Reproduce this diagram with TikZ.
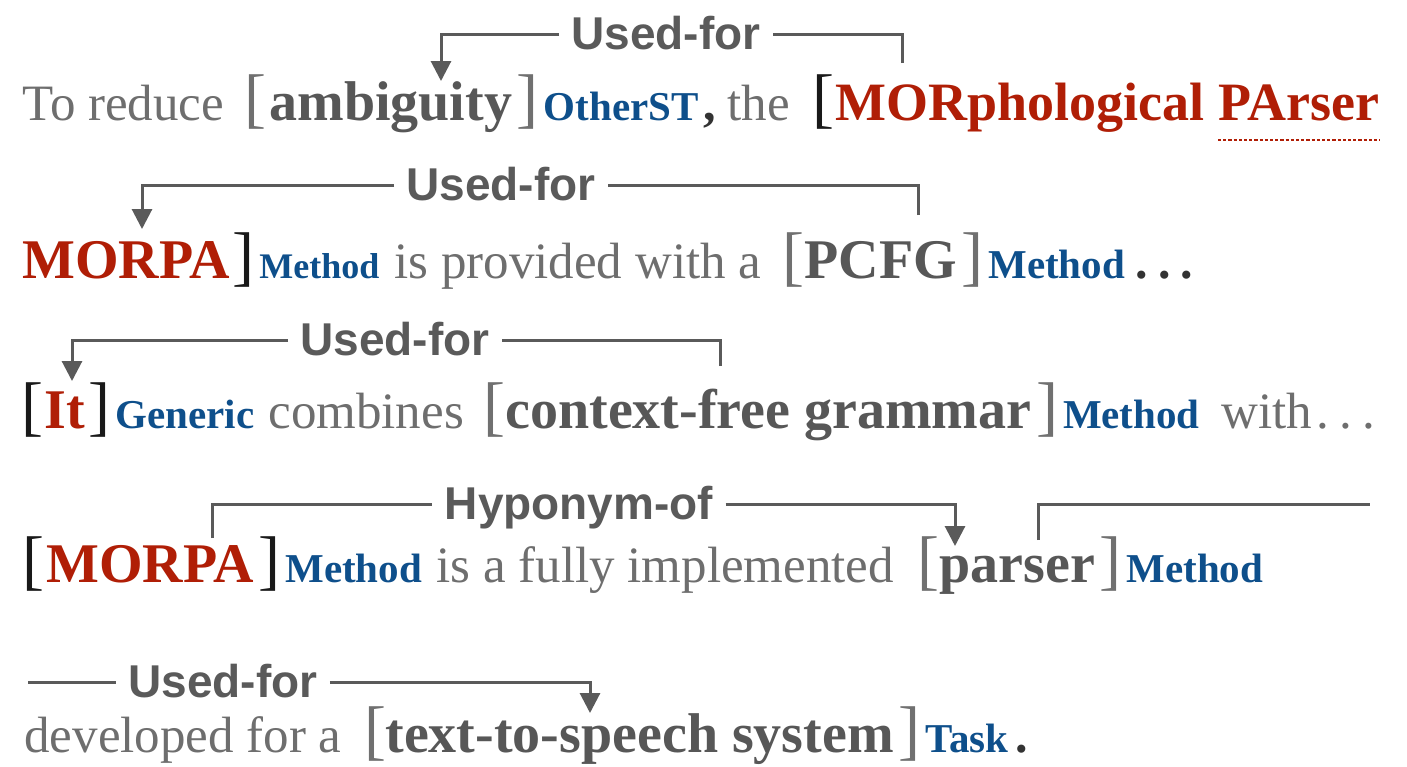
\documentclass[tikz,border=0pt]{standalone}
\usepackage{fontspec}
\setmainfont{Liberation Serif}
\setsansfont{Liberation Sans}
\usetikzlibrary{arrows.meta}

\definecolor{txtgray}{HTML}{6E6E6E}
\definecolor{entgray}{HTML}{575757}
\definecolor{brkgray}{HTML}{707070}
\definecolor{entred}{HTML}{B01E06}
\definecolor{tagblue}{HTML}{0E4F8B}
\definecolor{linkgray}{HTML}{5A5A5A}

\tikzset{
  every node/.style={inner sep=0pt, anchor=base west},
  plain/.style={font=\fontsize{25.5}{30}\selectfont, text=txtgray},
  dark/.style={font=\bfseries\fontsize{25}{30}\selectfont, text=black!80},
  ent/.style={font=\bfseries\fontsize{28}{32}\selectfont, text=entgray},
  entr/.style={font=\bfseries\fontsize{28}{32}\selectfont, text=entred},
  brk/.style={font=\fontsize{33}{38}\selectfont, text=brkgray},
  brkk/.style={font=\fontsize{33}{38}\selectfont, text=black!90},
  tag/.style={font=\bfseries\fontsize{20.5}{24}\selectfont, text=tagblue},
  tagsm/.style={font=\bfseries\fontsize{18}{22}\selectfont, text=tagblue},
  rel/.style={font=\sffamily\bfseries\fontsize{23}{27}\selectfont, text=linkgray,
    anchor=base, inner xsep=6pt, inner ysep=0pt, text height=15.5pt, text depth=0pt},
  link/.style={draw=linkgray, line width=1.5pt},
  tip/.style={-{Triangle[length=10pt,width=10pt]}}
}

\newcommand{\dotsgap}{.\kern5pt.\kern5pt.}

\begin{document}
\begin{tikzpicture}[x=0.5pt, y=-0.5pt]
  \useasboundingbox[fill=white] (0,0) rectangle (1407,766);

  % ---- sentence 1 ----
  \node[plain] (s1a) at (22,120) {To reduce};
  \node[brk] (s1b) at (244,120) {[};
  \node[ent] (ambig) at (269,120) {ambiguity};
  \node[brk] (s1c) at ([xshift=2pt]ambig.base east) {]};
  \node[tag] (s1d) at ([xshift=2pt]s1c.base east) {OtherST};
  \node[dark] (s1e) at ([xshift=2pt]s1d.base east) {,};
  \node[plain] (s1f) at (727,120) {the};
  \node[brkk] (s1g) at (812,120) {[};
  \node[entr, font=\bfseries\fontsize{27}{32}\selectfont] (morph) at (835,120) {MORphological};
  \node[entr, font=\bfseries\fontsize{27}{32}\selectfont] (parsr) at (1218,120) {PArser};
  \draw[entred, line width=1.2pt, dash pattern=on 1.6pt off 1pt]
    ([yshift=-10pt]parsr.base west) -- ([yshift=-10pt]parsr.base east);

  % ---- sentence 2 ----
  \node[entr] (morpa1) at (22,278) {MORPA};
  \node[brkk] (s2b) at ([xshift=1pt]morpa1.base east) {]};
  \node[tagsm] (s2c) at ([xshift=2pt]s2b.base east) {Method};
  \node[plain] (s2d) at (394,278) {is provided with a};
  \node[brk] (s2f) at (782,278) {[};
  \node[ent] (pcfg) at (804,278) {PCFG};
  \node[brk] (s2g) at ([xshift=2pt]pcfg.base east) {]};
  \node[tag] (s2h) at ([xshift=2pt]s2g.base east) {Method};
  \node[dark] (s2i) at ([xshift=5pt]s2h.base east) {\dotsgap};

  % ---- sentence 3 ----
  \node[brkk] (s3a) at (21,428) {[};
  \node[entr] (it) at (44,428) {It};
  \node[brkk] (s3b) at ([xshift=1.5pt]it.base east) {]};
  \node[tag] (s3c) at ([xshift=2pt]s3b.base east) {Generic};
  \node[plain] (s3d) at (268,428) {combines};
  \node[brk] (s3e) at (483,428) {[};
  \node[ent] (cfg) at (505,428) {context-free grammar};
  \node[brk] (s3f) at ([xshift=2pt]cfg.base east) {]};
  \node[tag] (s3g) at ([xshift=2pt]s3f.base east) {Method};
  \node[plain] (s3h) at (1221,428) {with};
  \node[plain] (s3i) at ([xshift=2pt]s3h.base east) {\dotsgap};

  % ---- sentence 4 ----
  \node[brkk] (s4a) at (22,582) {[};
  \node[entr] (morpa2) at (46,582) {MORPA};
  \node[brkk] (s4b) at ([xshift=2pt]morpa2.base east) {]};
  \node[tag] (s4c) at ([xshift=2pt]s4b.base east) {Method};
  \node[plain] (s4d) at (436,582) {is a fully implemented};
  \node[brk] (s4e) at (917,582) {[};
  \node[ent] (parser) at (939,582) {parser};
  \node[brk] (s4f) at ([xshift=2pt]parser.base east) {]};
  \node[tag] (s4g) at ([xshift=2pt]s4f.base east) {Method};

  % ---- sentence 5 ----
  \node[plain] (s5a) at (24,752) {developed for a};
  \node[brk] (s5b) at (364,752) {[};
  \node[ent] (tts) at (385,752) {text-to-speech system};
  \node[brk] (s5c) at ([xshift=2pt]tts.base east) {]};
  \node[tag] (s5d) at ([xshift=2pt]s5c.base east) {Task};
  \node[dark] (s5e) at ([xshift=3pt]s5d.base east) {.};

  % ---- relation labels ----
  \node[rel] (r1) at (666,49.5) {Used-for};
  \node[rel] (r2) at (501,200.5) {Used-for};
  \node[rel] (r3) at (395,355.5) {Used-for};
  \node[rel] (r4) at (579,519.5) {Hyponym-of};
  \node[rel] (r5) at (223,697.5) {Used-for};

  % ---- connector end points ----
  \coordinate (c1s) at (902,63);   \coordinate (c1t) at (441,81);
  \coordinate (c2s) at (918,215);  \coordinate (c2t) at (142,229);
  \coordinate (c3s) at (720,366);  \coordinate (c3t) at (72,381);
  \coordinate (c4s) at (212,538);  \coordinate (c4t) at (955,546);
  \coordinate (c5s) at (1038,540); \coordinate (c5e) at (1370,504);
  \coordinate (c6s) at (28,682);   \coordinate (c6t) at (590,713);

  % ---- connectors ----
  \draw[link] (c1s) |- (r1.east);
  \draw[link, tip] (r1.west) -| (c1t);
  \draw[link] (c2s) |- (r2.east);
  \draw[link, tip] (r2.west) -| (c2t);
  \draw[link] (c3s) |- (r3.east);
  \draw[link, tip] (r3.west) -| (c3t);
  \draw[link] (c4s) |- (r4.west);
  \draw[link, tip] (r4.east) -| (c4t);
  \draw[link] (c5s) |- (c5e);
  \draw[link] (c6s) -- (r5.west);
  \draw[link, tip] (r5.east) -| (c6t);
\end{tikzpicture}
\end{document}
